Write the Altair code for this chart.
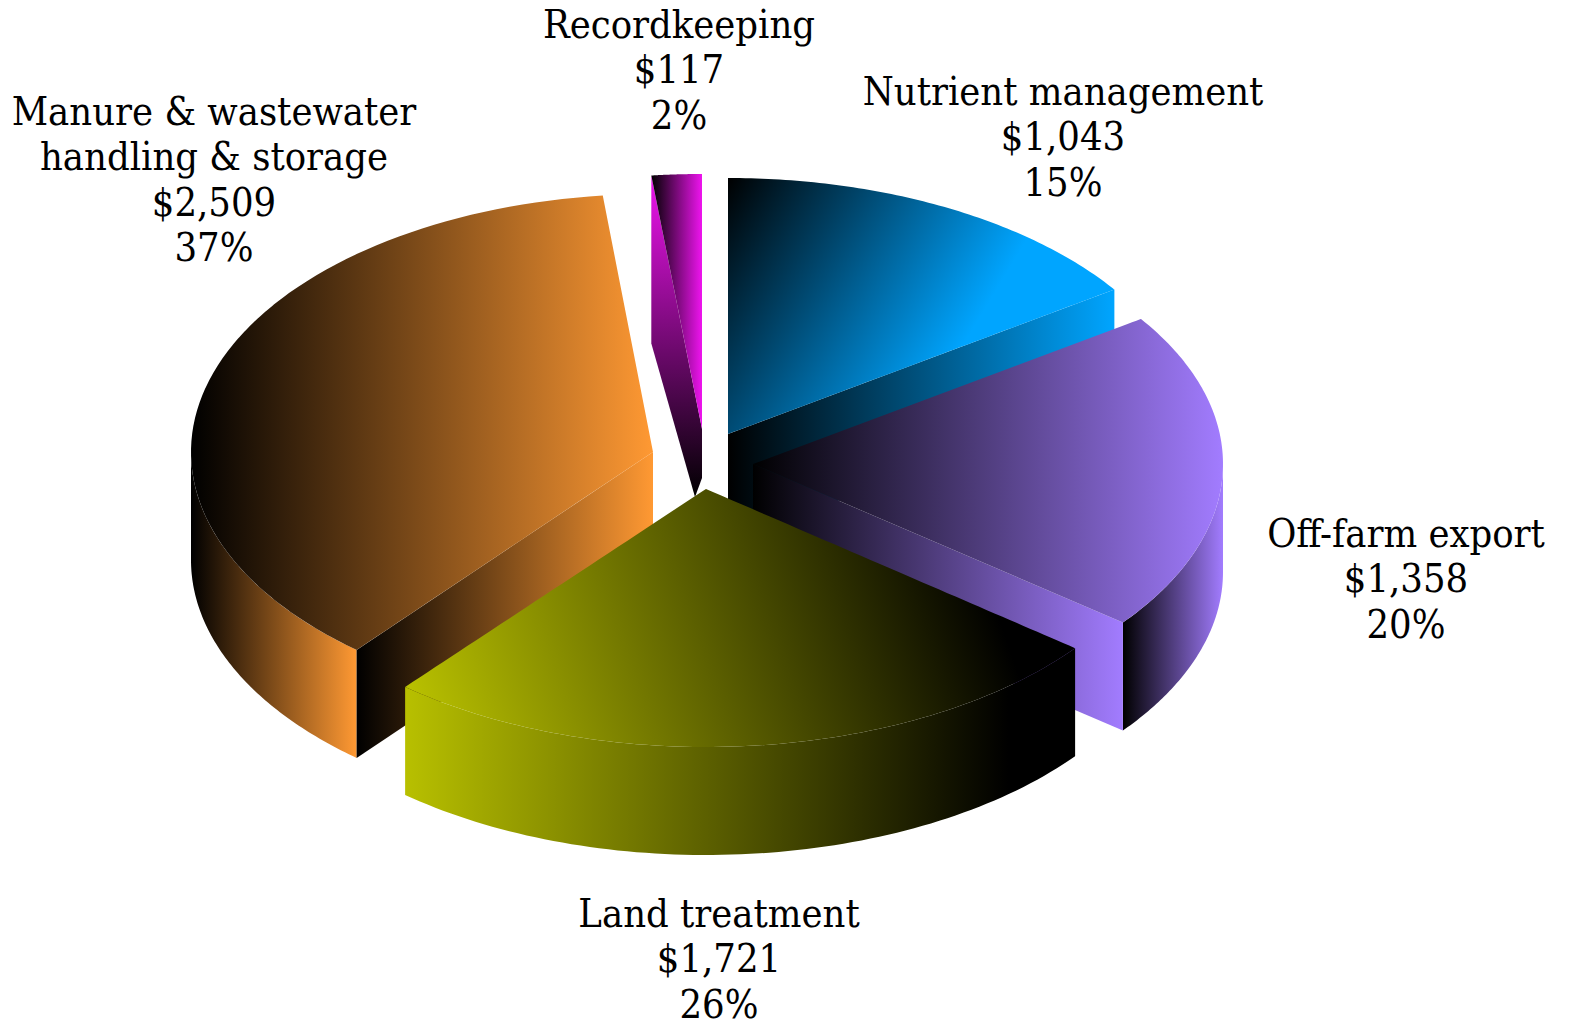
import numpy as np
import pandas as pd
import altair as alt

# --- values
names = ["Recordkeeping", "Nutrient management", "Off-farm export", "Land treatment",
         "Manure & wastewater\nhandling & storage"]
costs = [117, 1043, 1358, 1721, 2509]
colours = ["#EE14EE", "#00A5FF", "#A27CFF", "#B8C000", "#FF9933"]

# --- pie geometry (separate from the data)
radii_x = [466.0, 468.0, 470.0, 469.0, 462.0]
radii_y = [255.0, 256.0, 257.0, 258.0, 258.0]
DEPTH = 108.0
centres = [(702, 429), (728, 434), (753, 464), (706, 489), (653, 452)]
label_x = [679, 1063, 1406, 719, 214]
label_y = [38, 105, 547, 927, 125]
LINE = 45.4
W, H = 1555, 1030
FONT, FSIZE = "DejaVu Serif Condensed", 39.5

total = sum(costs)
ends = np.cumsum(costs) / total * 360.0
starts = np.r_[0.0, ends[:-1]]
# Recordkeeping sits just before 12 o'clock, the others run clockwise after it
offset = -costs[0] / total * 360.0
starts += offset
ends += offset


def arc(i, a0, a1, n=80):
    cx, cy = centres[i]
    t = np.radians(np.linspace(a0, a1, n))
    return np.c_[cx + radii_x[i] * np.sin(t), cy - radii_y[i] * np.cos(t)]


def band(pts):
    """upper and lower edge of an x-monotone polygon, per x"""
    pts = np.asarray(pts, float)
    xs = np.unique(pts[:, 0])
    p, q = pts, np.roll(pts, -1, axis=0)
    rows = []
    for x in xs:
        ys = []
        for (x0, y0), (x1, y1) in zip(p, q):
            if x0 == x1:
                if x0 == x:
                    ys += [y0, y1]
            elif min(x0, x1) <= x <= max(x0, x1):
                ys.append(y0 + (x - x0) / (x1 - x0) * (y1 - y0))
        rows.append((x, min(ys), max(ys)))
    return pd.DataFrame(rows, columns=["x", "y", "y2"])


def grad(col, x1=0, y1=0, x2=1, y2=0, black_first=True, stop=1.0):
    a, b = ("#000000", col) if black_first else (col, "#000000")
    return alt.Gradient(
        gradient="linear",
        stops=[alt.GradientStop(color=a, offset=0), alt.GradientStop(color=b, offset=stop)],
        x1=x1, y1=y1, x2=x2, y2=y2,
    )


xs = alt.Scale(domain=[8, 8 + W], nice=False, zero=False)
ys = alt.Scale(domain=[8 + H, 8], nice=False, zero=False)


def face(pts, fill):
    return alt.Chart(band(pts)).mark_area(color=fill, clip=False).encode(
        x=alt.X("x:Q", scale=xs, axis=None),
        y=alt.Y("y:Q", scale=ys, axis=None),
        y2="y2:Q",
    )


def top(i):
    return np.vstack([[centres[i]], arc(i, starts[i], ends[i])])


def cut(i, angle):
    c = np.array(centres[i], float)
    e = arc(i, angle, angle, 1)[0]
    d = np.array([0, DEPTH])
    return [c, e, e + d, c + d]


def rim(i, a0, a1):
    r = arc(i, a0, a1)
    return np.vstack([r, (r + [0, DEPTH])[::-1]])


layers = []
# Nutrient management
layers += [face(cut(1, ends[1]), grad(colours[1])),
           face(top(1), grad(colours[1], 0, 0, 0.75, 0.30))]
# Recordkeeping
c0 = np.array(centres[0], float)
p0 = arc(0, starts[0], starts[0], 1)[0]
layers += [face([p0, c0, c0 + [0, 49], c0 + [-7, 68], p0 + [0, 168]],
                grad(colours[0], 0, 0, 0, 1, black_first=False)),
           face(top(0), grad(colours[0]))]
# Off-farm export
layers += [face(rim(2, 90, ends[2]), grad(colours[2])),
           face(cut(2, ends[2]), grad(colours[2])),
           face(top(2), grad(colours[2]))]
# Manure
layers += [face(rim(4, 270, starts[4]), grad(colours[4])),
           face(cut(4, starts[4]), grad(colours[4])),
           face(top(4), grad(colours[4]))]
# Land treatment
layers += [face(rim(3, ends[3], starts[3]), grad(colours[3], black_first=False, stop=0.9)),
           face(top(3), grad(colours[3], 0, 0.72, 0.9, 0.6, black_first=False))]

rows = []
for n, c, lx, ly in zip(names, costs, label_x, label_y):
    lines = n.split("\n") + [f"${c:,}", f"{round(c / total * 100)}%"]
    for k, t in enumerate(lines):
        rows.append({"tx": lx, "ty": ly + k * LINE, "label": t})
text = alt.Chart(pd.DataFrame(rows)).mark_text(
    font=FONT, fontSize=FSIZE, color="#000000", align="center", baseline="alphabetic"
).encode(
    x=alt.X("tx:Q", scale=xs, axis=None),
    y=alt.Y("ty:Q", scale=ys, axis=None),
    text="label:N",
)

chart = alt.layer(*layers, text).properties(
    width=W, height=H, padding=0, autosize=alt.AutoSizeParams(type="none"), background="white"
).configure_view(stroke=None)

chart.save("out.html", embed_options={"renderer": "svg", "actions": False})
